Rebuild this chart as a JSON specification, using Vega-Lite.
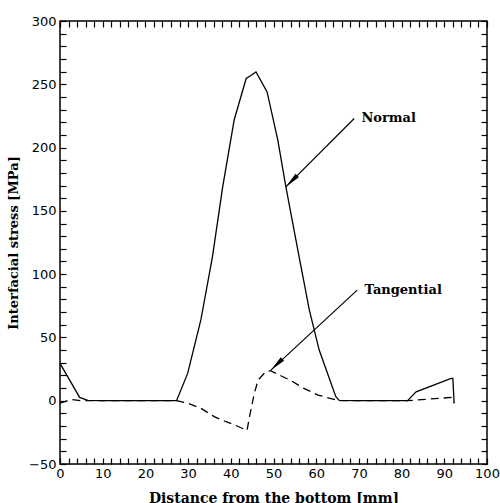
{
  "$schema": "https://vega.github.io/schema/vega-lite/v6.json",
  "padding": {"left": 6, "top": 14, "right": 2, "bottom": 3},
  "config": {
    "view": {"stroke": "black", "strokeWidth": 1.5, "fill": null}
  },
  "datasets": {
    "normal": [
      {"x": 0, "y": 29.5}, {"x": 4.6, "y": 2.6}, {"x": 6.5, "y": 0.3}, {"x": 10, "y": 0}, {"x": 20, "y": 0}, {"x": 27.3, "y": 0},
      {"x": 29.9, "y": 21.6}, {"x": 33, "y": 64}, {"x": 35.7, "y": 113.7}, {"x": 38.1, "y": 169}, {"x": 40.8, "y": 222},
      {"x": 43.6, "y": 254.6}, {"x": 44.7, "y": 257}, {"x": 45.9, "y": 259.8}, {"x": 48.5, "y": 244}, {"x": 51, "y": 206},
      {"x": 52.9, "y": 169}, {"x": 56, "y": 113.7}, {"x": 58.4, "y": 71.6}, {"x": 60.7, "y": 40}, {"x": 64.6, "y": 3.2},
      {"x": 65.4, "y": 0.3}, {"x": 70, "y": 0}, {"x": 81.4, "y": 0}, {"x": 83.4, "y": 7}, {"x": 91.6, "y": 17.6},
      {"x": 92, "y": 17.6}, {"x": 92.3, "y": -2}
    ],
    "tangential": [
      {"x": 0, "y": -2}, {"x": 2.6, "y": 1}, {"x": 5, "y": 0}, {"x": 10, "y": 0}, {"x": 20, "y": 0}, {"x": 27.3, "y": 0},
      {"x": 30, "y": -2}, {"x": 33, "y": -6}, {"x": 36.1, "y": -12.6}, {"x": 38.9, "y": -16.6}, {"x": 40.8, "y": -19},
      {"x": 43.8, "y": -23.5}, {"x": 44.3, "y": -14}, {"x": 45.5, "y": 5.8}, {"x": 46.4, "y": 16.3}, {"x": 48.2, "y": 23},
      {"x": 49.3, "y": 23.7}, {"x": 54, "y": 16}, {"x": 57, "y": 10}, {"x": 60.4, "y": 4.5}, {"x": 65.3, "y": 0},
      {"x": 70, "y": 0}, {"x": 81.4, "y": 0}, {"x": 91.6, "y": 2.6}, {"x": 92.3, "y": -2}
    ],
    "arrows": [
      {"label": "Normal", "x": 68.9, "y": 223, "x2": 52.9, "y2": 169, "tx": 70.6, "ty": 223, "angle": 225},
      {"label": "Tangential", "x": 69.6, "y": 87.4, "x2": 49.4, "y2": 24.2, "tx": 71.3, "ty": 87.7, "angle": 226}
    ]
  },
  "hconcat": [
    {
      "width": 427,
      "height": 443,
      "layer": [
        {
          "data": {"name": "normal"},
          "mark": {"type": "line", "color": "black", "strokeWidth": 1.3},
          "encoding": {
            "x": {"field": "x", "type": "quantitative", "scale": {"domain": [0, 100], "nice": false, "zero": false},
              "axis": {"orient": "bottom", "zindex": 1, "values": [0,2,4,6,8,10,12,14,16,18,20,22,24,26,28,30,32,34,36,38,40,42,44,46,48,50,52,54,56,58,60,62,64,66,68,70,72,74,76,78,80,82,84,86,88,90,92,94,96,98,100],
                "ticks": true, "tickSize": -6, "tickColor": "black", "tickWidth": 1.2, "tickOpacity": 1,
                "encode": {"ticks": {"update": {"y2": {"signal": "datum.value % 10 === 0 ? -12 : -6"}}}},
                "domain": false, "grid": false,
                "labelExpr": "datum.value % 10 === 0 ? datum.label : ''",
                "labelPadding": 9, "labelFlush": false, "labelOverlap": false, "labelColor": "black",
                "labelFont": "DejaVu Sans", "labelFontSize": 13, "title": "Distance from the bottom [mm]", "titleFont": "DejaVu Serif",
                "titleFontWeight": "bold", "titleFontSize": 14, "titleColor": "black", "titlePadding": 11}},
            "y": {"field": "y", "type": "quantitative", "scale": {"domain": [-50, 300], "nice": false, "zero": false},
              "axis": {"orient": "left", "zindex": 1, "values": [-50,-40,-30,-20,-10,0,10,20,30,40,50,60,70,80,90,100,110,120,130,140,150,160,170,180,190,200,210,220,230,240,250,260,270,280,290,300],
                "ticks": true, "tickSize": -6, "tickColor": "black", "tickWidth": 1.2, "tickOpacity": 1,
                "encode": {"ticks": {"update": {"x2": {"signal": "datum.value % 50 === 0 ? 12 : 6"}}}},
                "domain": false, "grid": false,
                "labelExpr": "datum.value % 50 === 0 ? datum.label : ''",
                "labelPadding": 10, "labelFlush": false, "labelOverlap": false, "labelColor": "black",
                "labelFont": "DejaVu Sans", "labelFontSize": 13, "title": "Interfacial stress [MPa]", "titleFont": "DejaVu Serif",
                "titleFontWeight": "bold", "titleFontSize": 13, "titleColor": "black", "titlePadding": 8}}
          }
        },
        {
          "data": {"name": "tangential"},
          "mark": {"type": "line", "color": "black", "strokeWidth": 1.3, "strokeDash": [8, 5]},
          "encoding": {
            "x": {"field": "x", "type": "quantitative",
              "axis": {"orient": "top", "zindex": 1, "values": [0,2,4,6,8,10,12,14,16,18,20,22,24,26,28,30,32,34,36,38,40,42,44,46,48,50,52,54,56,58,60,62,64,66,68,70,72,74,76,78,80,82,84,86,88,90,92,94,96,98,100],
                "ticks": true, "tickSize": -6, "tickColor": "black", "tickWidth": 1.2, "tickOpacity": 1,
                "encode": {"ticks": {"update": {"y2": {"signal": "datum.value % 10 === 0 ? 12 : 6"}}}},
                "domain": false, "grid": false, "labels": false, "title": null}},
            "y": {"field": "y", "type": "quantitative",
              "axis": {"orient": "right", "zindex": 1, "values": [-50,-40,-30,-20,-10,0,10,20,30,40,50,60,70,80,90,100,110,120,130,140,150,160,170,180,190,200,210,220,230,240,250,260,270,280,290,300],
                "ticks": true, "tickSize": -6, "tickColor": "black", "tickWidth": 1.2, "tickOpacity": 1,
                "encode": {"ticks": {"update": {"x2": {"signal": "datum.value % 50 === 0 ? -12 : -6"}}}},
                "domain": false, "grid": false, "labels": false, "title": null}}
          }
        },
        {
          "data": {"name": "arrows"},
          "mark": {"type": "rule", "color": "black", "strokeWidth": 1.2},
          "encoding": {
            "x": {"field": "x", "type": "quantitative", "axis": null},
            "y": {"field": "y", "type": "quantitative", "axis": null},
            "x2": {"field": "x2"},
            "y2": {"field": "y2"}
          }
        },
        {
          "data": {"name": "arrows"},
          "mark": {"type": "point", "shape": "M0,0L0.3,2L-0.3,2Z", "filled": true, "color": "black", "opacity": 1, "size": 256},
          "encoding": {
            "x": {"field": "x2", "type": "quantitative", "axis": null},
            "y": {"field": "y2", "type": "quantitative", "axis": null},
            "angle": {"field": "angle", "type": "quantitative", "scale": null}
          }
        },
        {
          "data": {"name": "arrows"},
          "mark": {"type": "text", "align": "left", "baseline": "middle", "font": "DejaVu Serif", "fontWeight": "bold", "fontSize": 13, "color": "black"},
          "encoding": {
            "x": {"field": "tx", "type": "quantitative", "axis": null},
            "y": {"field": "ty", "type": "quantitative", "axis": null},
            "text": {"field": "label"}
          }
        }
      ],
      "resolve": {"axis": {"x": "independent", "y": "independent"}}
    }
  ]
}
